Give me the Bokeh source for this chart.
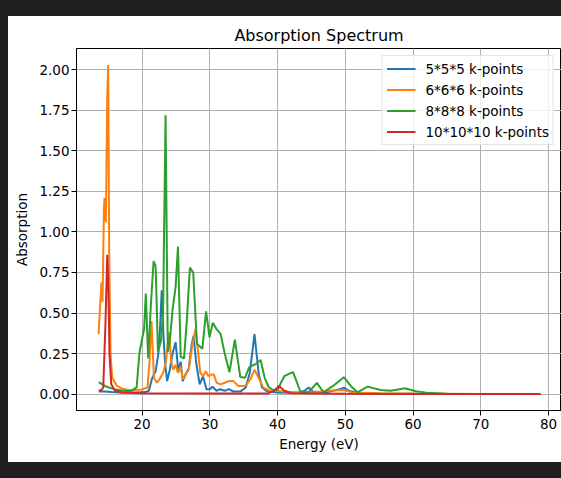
from bokeh.plotting import figure
from bokeh.models import Range1d, Legend, LegendItem, PrintfTickFormatter, FixedTicker, Div
from bokeh.layouts import row, column
from bokeh.embed import file_html
from bokeh.resources import INLINE

# ---- data ----
e_5 = [13.6, 14.5, 15.5, 17.0, 19.0, 20.5, 21.0, 21.5, 22.0, 22.4, 22.65, 22.9, 23.15, 23.4, 23.7,
       24.1, 24.5, 24.95, 25.35, 25.7, 26.0, 26.4, 26.9, 27.3, 27.6, 28.0, 28.5, 29.0, 29.5, 30.0,
       30.4, 31.0, 31.5, 32.2, 32.8, 33.5, 34.5, 35.3, 35.9, 36.6, 37.2, 37.7, 38.5, 40.0, 41.0,
       43.0, 44.0, 44.6, 45.2, 47.0, 49.2, 49.8, 50.5, 52.0, 55.0, 60.0, 65.0, 70.0, 78.8]
a_5 = [0.015, 0.015, 0.012, 0.01, 0.01, 0.012, 0.02, 0.10, 0.14, 0.25, 0.40, 0.64, 0.37, 0.19, 0.08,
       0.15, 0.25, 0.32, 0.14, 0.20, 0.08, 0.12, 0.16, 0.30, 0.36, 0.19, 0.06, 0.11, 0.03, 0.03,
       0.045, 0.02, 0.03, 0.02, 0.03, 0.015, 0.015, 0.04, 0.13, 0.37, 0.13, 0.04, 0.015, 0.01, 0.008,
       0.008, 0.02, 0.04, 0.015, 0.01, 0.03, 0.04, 0.02, 0.005, 0.003, 0.002, 0.001, 0.001, 0.001]

e_6 = [13.58, 14.0, 14.17, 14.37, 14.46, 14.66, 14.86, 15.0, 15.15, 15.35, 15.6, 16.3, 17.0, 18.0,
       19.0, 20.0, 20.8, 21.1, 21.4, 21.75, 22.2, 22.7, 23.1, 23.5, 24.0, 24.3, 24.6, 24.95, 25.3,
       25.7, 26.0, 26.4, 26.9, 27.4, 27.9, 28.3, 28.6, 29.0, 29.4, 29.8, 30.2, 30.6, 31.0, 31.6,
       32.2, 32.8, 33.5, 34.2, 35.2, 36.0, 36.6, 37.2, 37.9, 38.9, 40.0, 41.0, 43.0, 45.0, 47.5,
       49.8, 51.0, 55.0, 60.0, 70.0, 78.8]
a_6 = [0.37, 0.69, 0.57, 1.15, 1.21, 1.06, 1.84, 2.03, 0.86, 0.24, 0.10, 0.05, 0.035, 0.025,
       0.025, 0.028, 0.04, 0.20, 0.45, 0.10, 0.07, 0.10, 0.13, 0.19, 0.38, 0.20, 0.15, 0.18, 0.13,
       0.17, 0.09, 0.12, 0.15, 0.30, 0.40, 0.25, 0.13, 0.11, 0.14, 0.11, 0.12, 0.12, 0.07, 0.06,
       0.07, 0.08, 0.08, 0.05, 0.05, 0.09, 0.15, 0.10, 0.04, 0.02, 0.02, 0.015, 0.01, 0.01, 0.02,
       0.025, 0.01, 0.005, 0.003, 0.001, 0.001]

e_8 = [13.6, 14.5, 15.5, 16.3, 17.3, 18.3, 19.2, 19.6, 20.0, 20.3, 20.55, 20.9, 21.3, 21.7, 22.0,
       22.35, 22.8, 23.1, 23.47, 23.8, 24.1, 24.5, 24.95, 25.3, 25.7, 26.2, 26.6, 27.06, 27.55,
       28.1, 28.9, 29.45, 29.96, 30.45, 31.0, 31.6, 32.2, 32.9, 33.7, 34.5, 35.2, 35.8, 36.8, 37.5,
       38.1, 38.7, 39.5, 40.1, 40.5, 41.0, 41.7, 42.3, 43.4, 44.6, 45.8, 46.8, 48.2, 49.8, 50.8,
       51.8, 53.3, 55.2, 56.7, 58.8, 60.4, 62.0, 65.0, 70.0, 78.8]
a_8 = [0.073, 0.05, 0.035, 0.026, 0.02, 0.017, 0.042, 0.25, 0.34, 0.40, 0.62, 0.22, 0.55, 0.82, 0.79,
       0.26, 0.33, 0.50, 1.72, 0.26, 0.33, 0.52, 0.66, 0.91, 0.23, 0.22, 0.45, 0.78, 0.75,
       0.31, 0.28, 0.51, 0.35, 0.44, 0.40, 0.37, 0.25, 0.135, 0.335, 0.105, 0.10, 0.165, 0.186, 0.21,
       0.10, 0.042, 0.022, 0.03, 0.07, 0.11, 0.125, 0.135, 0.011, 0.011, 0.069, 0.011, 0.05, 0.104, 0.05,
       0.011, 0.046, 0.025, 0.02, 0.036, 0.017, 0.008, 0.002, 0.001, 0.001]

e_10 = [13.6, 14.0, 14.27, 14.6, 14.86, 15.0, 15.2, 15.45, 16.0, 17.0, 20.0, 30.0, 38.5, 39.5,
        40.2, 41.0, 42.0, 50.0, 60.0, 78.8]
a_10 = [0.02, 0.025, 0.04, 0.44, 0.86, 0.70, 0.24, 0.06, 0.02, 0.01, 0.005, 0.003, 0.003, 0.02,
        0.05, 0.02, 0.005, 0.002, 0.001, 0.001]

labels = ["5*5*5 k-points", "6*6*6 k-points", "8*8*8 k-points", "10*10*10 k-points"]
colors = ["#1f77b4", "#ff7f0e", "#2ca02c", "#d62728"]
x_ticks = [20, 30, 40, 50, 60, 70, 80]
y_ticks = [0.0, 0.25, 0.5, 0.75, 1.0, 1.25, 1.5, 1.75, 2.0]

FONT = "DejaVu Sans"
DARK = "#1e1e1e"

p = figure(width=553, height=446, output_backend="svg", toolbar_location=None,
           x_range=Range1d(10.32, 81.92), y_range=Range1d(-0.1015, 2.132),
           min_border_left=68, min_border_right=0, min_border_top=32, min_border_bottom=52,
           background_fill_color="white", border_fill_color="white")

p.title.text = "Absorption Spectrum"
p.title.align = "center"
p.title.text_font = FONT
p.title.text_font_size = "16px"
p.title.text_font_style = "normal"
p.title.text_color = "black"
p.title.standoff = 8

p.outline_line_color = "black"
p.outline_line_width = 1

for ax in (p.xaxis[0], p.yaxis[0]):
    ax.axis_line_color = "black"
    ax.major_tick_line_color = "black"
    ax.major_tick_in = 0
    ax.major_tick_out = 5
    ax.minor_tick_line_color = None
    ax.major_label_text_font = FONT
    ax.major_label_text_font_size = "13.5px"
    ax.major_label_text_color = "black"
    ax.axis_label_text_font = FONT
    ax.axis_label_text_font_size = "13.5px"
    ax.axis_label_text_font_style = "normal"
    ax.axis_label_text_color = "black"

p.xaxis.major_label_standoff = 3
p.yaxis.major_label_standoff = 2
p.xaxis.ticker = FixedTicker(ticks=x_ticks)
p.yaxis.ticker = FixedTicker(ticks=y_ticks)
p.yaxis.formatter = PrintfTickFormatter(format="%.2f")
p.xaxis.axis_label = "Energy (eV)"
p.yaxis.axis_label = "Absorption"
p.xaxis.axis_label_standoff = 4
p.yaxis.axis_label_standoff = 6

p.xgrid.grid_line_color = "#b0b0b0"
p.ygrid.grid_line_color = "#b0b0b0"
p.xgrid.grid_line_width = 1
p.ygrid.grid_line_width = 1

series = [(e_5, a_5), (e_6, a_6), (e_8, a_8), (e_10, a_10)]
items = []
for (ex, ay), lab, col in zip(series, labels, colors):
    r = p.line(ex, ay, line_color=col, line_width=2)
    items.append(LegendItem(label=lab, renderers=[r]))

legend = Legend(items=items, location="top_right", margin=7, padding=4,
                glyph_width=29, glyph_height=17, label_height=17, spacing=4,
                label_standoff=10, label_text_font=FONT, label_text_font_size="13.5px",
                label_text_color="black",
                border_line_color="#cccccc", border_line_width=1,
                background_fill_color="white", background_fill_alpha=0.8)
p.add_layout(legend)

bar_style = {"background-color": DARK, "margin": "0", "padding": "0"}
left_bar = Div(text="", width=8, height=478, styles=bar_style)
top_bar = Div(text="", width=553, height=16, styles=bar_style)
bottom_bar = Div(text="", width=553, height=16, styles=bar_style)
page = row(left_bar, column(top_bar, p, bottom_bar, spacing=0), spacing=0)

open("out.html", "w").write(file_html(page, INLINE))
